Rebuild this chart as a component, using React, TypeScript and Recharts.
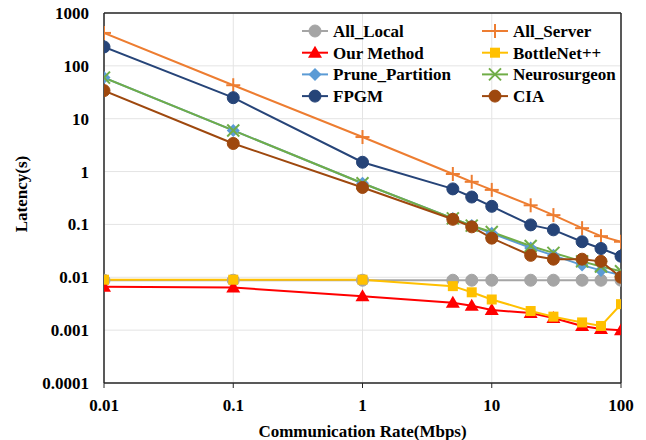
import { LineChart, Line, XAxis, YAxis, CartesianGrid, Legend, ReferenceLine } from 'recharts';

const rates = [0.01, 0.1, 1, 5, 7, 10, 20, 30, 50, 70, 100];
const allLocal = [0.0088, 0.0088, 0.0088, 0.0088, 0.0088, 0.0088, 0.0088, 0.0088, 0.0088, 0.0088, 0.0088];
const allServer = [420, 43, 4.5, 0.9, 0.64, 0.45, 0.23, 0.15, 0.085, 0.06, 0.047];
const ourMethod = [0.0066, 0.0064, 0.0044, 0.0033, 0.0029, 0.0024, 0.0021, 0.0017, 0.0012, 0.00105, 0.001];
const bottleNet = [0.009, 0.009, 0.009, 0.0068, 0.0052, 0.0038, 0.0023, 0.0018, 0.0014, 0.0012, 0.0031];
const prunePartition = [60, 6, 0.6, 0.13, 0.095, 0.068, 0.036, 0.026, 0.017, 0.0135, 0.011];
const neurosurgeon = [60, 6, 0.6, 0.13, 0.095, 0.072, 0.039, 0.029, 0.02, 0.016, 0.013];
const fpgm = [228, 25, 1.5, 0.47, 0.33, 0.22, 0.098, 0.079, 0.047, 0.035, 0.025];
const cia = [34, 3.4, 0.5, 0.125, 0.09, 0.055, 0.026, 0.022, 0.022, 0.02, 0.01];

const xTicks = [0.01, 0.1, 1, 10, 100];
const yTicks = [0.0001, 0.001, 0.01, 0.1, 1, 10, 100, 1000];

type Shape = 'circle' | 'plus' | 'triangle' | 'square' | 'diamond' | 'cross';

const series: { key: string; name: string; color: string; shape: Shape; values: number[] }[] = [
  { key: 'allLocal', name: 'All_Local', color: '#A5A5A5', shape: 'circle', values: allLocal },
  { key: 'allServer', name: 'All_Server', color: '#ED7D31', shape: 'plus', values: allServer },
  { key: 'ourMethod', name: 'Our Method', color: '#FF0000', shape: 'triangle', values: ourMethod },
  { key: 'bottleNet', name: 'BottleNet++', color: '#FFC000', shape: 'square', values: bottleNet },
  { key: 'prune', name: 'Prune_Partition', color: '#5B9BD5', shape: 'diamond', values: prunePartition },
  { key: 'neuro', name: 'Neurosurgeon', color: '#70AD47', shape: 'cross', values: neurosurgeon },
  { key: 'fpgm', name: 'FPGM', color: '#264478', shape: 'circle', values: fpgm },
  { key: 'cia', name: 'CIA', color: '#9E480E', shape: 'circle', values: cia },
];

const data = rates.map((rate, i) => {
  const row: Record<string, number> = { rate };
  series.forEach((s) => {
    row[s.key] = s.values[i];
  });
  return row;
});

const font = '"Liberation Serif", "Times New Roman", serif';
const Y_AXIS_WIDTH = 104;

function Marker({ shape, cx, cy, color }: { shape: Shape; cx: number; cy: number; color: string }) {
  switch (shape) {
    case 'circle':
      return <circle cx={cx} cy={cy} r={6} fill={color} stroke={color} />;
    case 'plus':
      return (
        <g stroke={color} strokeWidth={2}>
          <line x1={cx - 7} y1={cy} x2={cx + 7} y2={cy} />
          <line x1={cx} y1={cy - 7} x2={cx} y2={cy + 7} />
        </g>
      );
    case 'triangle':
      return <polygon points={`${cx},${cy - 7} ${cx - 7},${cy + 5} ${cx + 7},${cy + 5}`} fill={color} />;
    case 'square':
      return <rect x={cx - 5} y={cy - 5} width={10} height={10} fill={color} />;
    case 'diamond':
      return <polygon points={`${cx},${cy - 6.5} ${cx + 6.5},${cy} ${cx},${cy + 6.5} ${cx - 6.5},${cy}`} fill={color} />;
    case 'cross':
      return (
        <g stroke={color} strokeWidth={2}>
          <line x1={cx - 6} y1={cy - 6} x2={cx + 6} y2={cy + 6} />
          <line x1={cx - 6} y1={cy + 6} x2={cx + 6} y2={cy - 6} />
        </g>
      );
  }
  return null;
}

function ChartLegend() {
  return (
    <svg width={340} height={92} style={{ display: 'block' }}>
      {series.map((s, i) => {
        const col = i % 2;
        const row = Math.floor(i / 2);
        const x = col * 180;
        const y = 13 + row * 21.7;
        return (
          <g key={s.key}>
            <line x1={x} y1={y} x2={x + 26} y2={y} stroke={s.color} strokeWidth={2} />
            <Marker shape={s.shape} cx={x + 13} cy={y} color={s.color} />
            <text x={x + 31} y={y} dy="0.35em" fontFamily={font} fontWeight="bold" fontSize={17} fill="#000">
              {s.name}
            </text>
          </g>
        );
      })}
    </svg>
  );
}

const tickStyle = { fontFamily: font, fontWeight: 'bold', fontSize: 17, fill: '#000' };

// y tick labels, right-aligned 15px left of the axis line
function YTick({ y, payload }: any) {
  return (
    <text x={Y_AXIS_WIDTH - 15} y={y} dy="0.35em" textAnchor="end" {...tickStyle}>
      {String(payload.value)}
    </text>
  );
}

export default function App() {
  return (
    <div style={{ position: 'absolute', left: 0, top: 0, width: 646, height: 440, background: '#fff' }}>
      <LineChart width={646} height={440} data={data} margin={{ top: 13, right: 25, bottom: 0, left: 0 }}>
        <CartesianGrid stroke="#E4E4E4" strokeWidth={1} />
        <XAxis
          dataKey="rate"
          type="number"
          scale="log"
          domain={[0.01, 100]}
          ticks={xTicks}
          allowDataOverflow
          height={57}
          tick={tickStyle}
          tickSize={5}
          tickMargin={11}
          stroke="#262626"
          axisLine={{ stroke: '#262626', strokeWidth: 1.5 }}
          label={{ value: 'Communication Rate(Mbps)', position: 'insideBottom', offset: 3, style: tickStyle }}
        />
        <YAxis
          type="number"
          scale="log"
          domain={[0.0001, 1000]}
          ticks={yTicks}
          allowDataOverflow
          width={Y_AXIS_WIDTH}
          tick={<YTick />}
          tickLine={false}
          axisLine={{ stroke: '#262626', strokeWidth: 1.5 }}
          label={{ value: 'Latency(s)', angle: -90, position: 'insideLeft', offset: 21, dy: -4, style: { ...tickStyle, textAnchor: 'middle' } }}
        />
        <ReferenceLine y={1000} stroke="#262626" strokeWidth={1.5} />
        <ReferenceLine x={100} stroke="#262626" strokeWidth={1.5} />
        {series.map((s) => (
          <Line
            key={s.key}
            dataKey={s.key}
            name={s.name}
            stroke={s.color}
            strokeWidth={2}
            isAnimationActive={false}
            dot={(p: any) => <Marker key={`${s.key}-${p.index}`} shape={s.shape} cx={p.cx} cy={p.cy} color={s.color} />}
            activeDot={false}
          />
        ))}
        <Legend
          layout="horizontal"
          verticalAlign="middle"
          content={() => <ChartLegend />}
          wrapperStyle={{ position: 'absolute', left: 302, top: 18, width: 340, height: 92 }}
        />
      </LineChart>
    </div>
  );
}
